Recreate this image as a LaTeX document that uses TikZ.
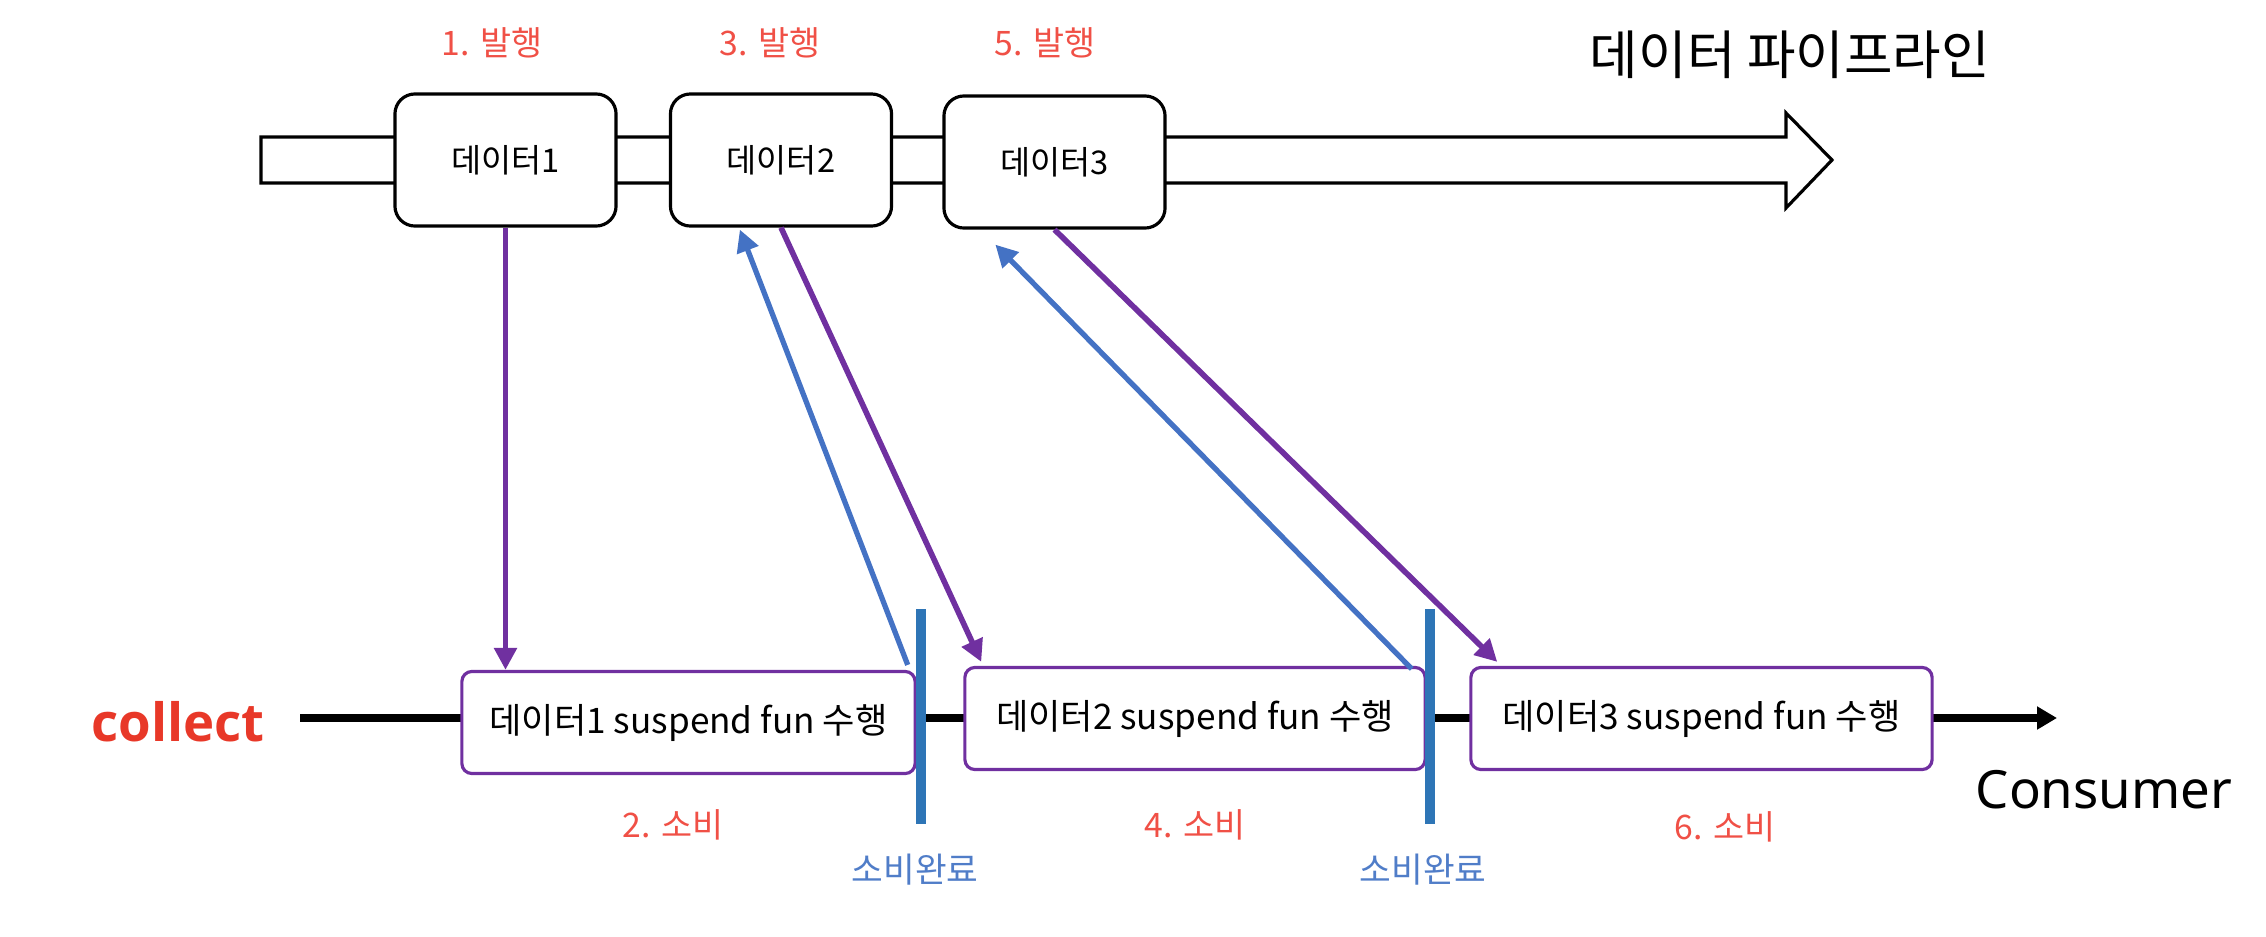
\documentclass[tikz,border=0pt]{standalone}
\usepackage{fontspec}
\setmainfont{Noto Sans CJK KR}
\newfontfamily\latinfont{Noto Sans}
\newfontfamily\boldlatin{Open Sans}
\usetikzlibrary{arrows.meta,calc}
\definecolor{purp}{RGB}{112,48,160}
\definecolor{arrblue}{RGB}{68,114,196}
\definecolor{barblue}{RGB}{46,117,182}
\definecolor{lblred}{RGB}{240,80,70}
\definecolor{colred}{RGB}{232,56,40}
\definecolor{txtblue}{RGB}{80,125,200}
\begin{document}
\begin{tikzpicture}[x=0.01cm,y=-0.01cm,
  databox/.style={draw=black,line width=0.9pt,fill=white,rounded corners=0.2cm,minimum width=2.21cm,minimum height=1.32cm,inner sep=0pt,font=\fontsize{9.3}{10}\selectfont},
  funbox/.style={draw=purp,line width=0.9pt,fill=white,rounded corners=0.1cm,minimum height=1.02cm,inner sep=0pt,font=\fontsize{10}{12}\selectfont},
  steplbl/.style={text=lblred,inner sep=0pt,font=\fontsize{9.6}{10}\selectfont},
  donelbl/.style={text=txtblue,inner sep=0pt,font=\fontsize{9.8}{10}\selectfont},
  bigtxt/.style={inner sep=0pt,font=\fontsize{15}{17}\selectfont},
  pflow/.style={draw=purp,line width=1.6pt,-{Triangle[length=0.22cm,width=0.22cm]}},
  bflow/.style={draw=arrblue,line width=1.5pt,-{Triangle[length=0.22cm,width=0.22cm]}},
  cbar/.style={draw=barblue,line width=2.8pt},
  pipe/.style={draw=black,line width=0.9pt,fill=white},
  mainline/.style={draw=black,line width=2pt,-{Triangle[length=0.2cm,width=0.22cm]}}
]
\useasboundingbox (0,0) rectangle (2266,936);

% data pipeline arrow
\draw[pipe] (261,137) -- (1786,137) -- (1786,113) -- (1832,160) -- (1786,208) -- (1786,183) -- (261,183) -- cycle;
\node[databox] (d1) at (505.5,160) {데이터1};
\node[databox] (d2) at (781,160) {데이터2};
\node[databox] (d3) at (1054.5,162) {데이터3};
\node[bigtxt] (title) at (1790,55) {데이터 파이프라인};

\node[steplbl] (p1) at (492,43) {1. 발행};
\node[steplbl] (p3) at (770,43) {3. 발행};
\node[steplbl] (p5) at (1045,43) {5. 발행};

% consumer line
\coordinate (lstart) at (300,718);
\coordinate (lend) at (2057,718);
\draw[mainline] (lstart) -- (lend);
\node[funbox,minimum width=4.53cm] (f1) at (688.5,722.5) {데이터1 suspend fun 수행};
\node[funbox,minimum width=4.60cm] (f2) at (1195,718.5) {데이터2 suspend fun 수행};
\node[funbox,minimum width=4.61cm] (f3) at (1701.5,718.5) {데이터3 suspend fun 수행};

\node[bigtxt,text=colred,font=\boldlatin\bfseries\fontsize{15}{17}\selectfont] (collect) at (178,722) {collect};
\node[bigtxt,font=\latinfont\fontsize{15}{17}\selectfont] (consumer) at (2104,790) {Consumer};

\node[steplbl] (c2) at (673,825) {2. 소비};
\node[steplbl] (c4) at (1195,825) {4. 소비};
\node[steplbl] (c6) at (1725,827) {6. 소비};

% completion bars
\coordinate (b1t) at (921,609); \coordinate (b1b) at (921,824);
\coordinate (b2t) at (1430,609); \coordinate (b2b) at (1430,824);
\draw[cbar] (b1t) -- (b1b);
\draw[cbar] (b2t) -- (b2b);
\node[donelbl] (done1) at (915,870) {소비완료};
\node[donelbl] (done2) at (1423,870) {소비완료};

% flows
\draw[pflow] (d1.south) -- (d1.south |- f1.north);
\draw[bflow] ($(f1.north east)+(-9,-5)$) -- ($(d2.south west)+(71,2)$);
\draw[pflow] (d2.south) -- ($(f2.north west)+(18,-4)$);
\draw[bflow] ($(f2.north east)+(-15,3)$) -- ($(d3.south west)+(53,15)$);
\draw[pflow] (d3.south) -- ($(f3.north west)+(28,-4)$);
\end{tikzpicture}
\end{document}
